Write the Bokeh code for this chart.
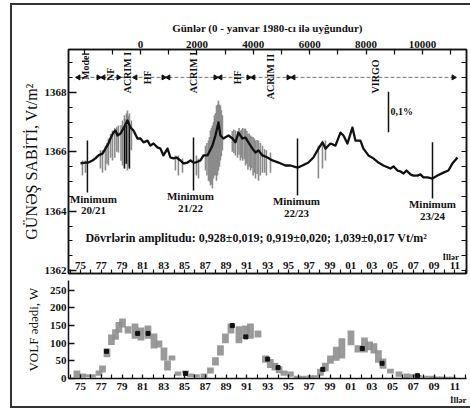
import math
from bokeh.plotting import figure
from bokeh.models import Range1d, LinearAxis, FixedTicker, Label, Title
from bokeh.layouts import column
from bokeh.embed import file_html
from bokeh.resources import INLINE
from bokeh.core.properties import value

FONT = "Liberation Serif"

# ---------------- data: total solar irradiance (black curve) ----------------
tsi_year = [1975.00, 1975.48, 1975.77, 1976.15, 1976.44, 1976.73, 1977.12, 1977.40, 1977.69, 1977.88,
            1978.17, 1978.37, 1978.56, 1978.85, 1979.13, 1979.52, 1979.81, 1980.10, 1980.48, 1980.77,
            1981.06, 1981.44, 1981.73, 1982.02, 1982.40, 1982.69, 1982.98, 1983.37, 1983.65, 1983.94,
            1984.23, 1984.62, 1984.90, 1985.29, 1985.58, 1985.87, 1986.06, 1986.54, 1986.83, 1987.21,
            1987.69, 1987.98, 1988.27, 1988.46, 1988.75, 1989.23, 1989.62, 1989.90, 1990.19, 1990.58,
            1990.87, 1991.15, 1991.54, 1991.83, 1992.12, 1992.50, 1992.98, 1993.46, 1994.04, 1994.71,
            1995.19, 1995.87, 1996.35, 1996.92, 1997.40, 1997.88, 1998.27, 1998.56, 1999.04, 1999.52,
            2000.00, 2000.29, 2000.67, 2001.15, 2001.44, 2001.92, 2002.21, 2002.69, 2003.17, 2003.65,
            2004.13, 2004.81, 2005.10, 2005.48, 2005.77, 2006.06, 2006.35, 2006.73, 2007.02, 2007.40,
            2007.69, 2007.98, 2008.37, 2008.85, 2009.33, 2009.90, 2010.38, 2010.77, 2011.25]
tsi_value = [1365.61, 1365.64, 1365.64, 1365.71, 1365.78, 1365.88, 1365.94, 1366.11, 1366.28, 1366.45,
             1366.65, 1366.72, 1366.55, 1366.62, 1366.79, 1367.06, 1366.82, 1366.72, 1366.45, 1366.45,
             1366.32, 1366.38, 1366.21, 1366.28, 1366.15, 1366.11, 1365.88, 1366.11, 1365.81, 1365.78,
             1365.81, 1365.71, 1365.61, 1365.64, 1365.71, 1365.64, 1365.64, 1365.71, 1365.88, 1365.88,
             1366.21, 1366.55, 1366.99, 1366.55, 1366.45, 1366.55, 1366.45, 1366.32, 1366.65, 1366.45,
             1366.48, 1366.32, 1366.11, 1365.98, 1366.05, 1365.88, 1365.81, 1365.71, 1365.64, 1365.54,
             1365.54, 1365.47, 1365.54, 1365.64, 1365.81, 1366.11, 1366.32, 1366.11, 1366.28, 1366.21,
             1366.65, 1366.55, 1366.28, 1366.82, 1366.38, 1366.38, 1366.11, 1365.88, 1365.78, 1365.64,
             1365.54, 1365.44, 1365.51, 1365.37, 1365.34, 1365.27, 1365.37, 1365.24, 1365.20, 1365.20,
             1365.24, 1365.14, 1365.14, 1365.10, 1365.20, 1365.30, 1365.37, 1365.61, 1365.81]

# daily scatter (grey spikes): year, low, high
spike_year = [1975.19, 1975.48, 1976.92, 1977.12, 1977.40, 1977.55, 1977.69, 1977.90, 1978.08, 1978.30,
              1978.50, 1978.65, 1978.90, 1979.04, 1979.23, 1979.33, 1979.42, 1979.52, 1979.61, 1979.71,
              1979.90, 1984.13, 1984.42, 1984.81, 1986.15, 1986.35, 1987.02, 1987.16, 1987.31, 1987.40,
              1987.50, 1987.60, 1987.69, 1987.79, 1987.88, 1987.98, 1988.08, 1988.18, 1988.27, 1988.37,
              1988.46, 1988.55, 1988.65, 1989.60, 1989.75, 1989.90, 1990.10, 1990.25, 1990.38, 1990.50,
              1990.60, 1990.75, 1990.87, 1991.00, 1991.10, 1991.22, 1991.35, 1991.48, 1991.60, 1991.72,
              1991.83, 1991.98, 1992.12, 1992.30, 1992.50, 1992.70, 1992.88, 1993.27, 1997.88, 1998.27,
              1998.56]
spike_lo = [1365.20, 1365.30, 1365.44, 1365.30, 1365.37, 1365.60, 1365.54, 1365.80, 1365.71, 1365.80,
            1366.00, 1365.98, 1365.70, 1365.54, 1365.44, 1365.60, 1365.71, 1365.37, 1365.50, 1365.44,
            1366.05, 1365.37, 1365.20, 1365.30, 1365.20, 1365.10, 1365.37, 1365.20, 1365.03, 1365.00,
            1364.87, 1364.90, 1364.77, 1365.10, 1365.20, 1365.20, 1365.03, 1365.20, 1365.37, 1365.50,
            1365.71, 1365.85, 1366.05, 1366.00, 1365.95, 1365.88, 1365.80, 1365.90, 1365.71, 1365.80,
            1365.70, 1365.75, 1365.54, 1365.60, 1365.40, 1365.50, 1365.37, 1365.45, 1365.20, 1365.30,
            1365.10, 1365.25, 1365.03, 1365.20, 1365.30, 1365.30, 1365.20, 1365.30, 1365.10, 1365.44,
            1365.71]
spike_hi = [1365.71, 1365.71, 1366.05, 1366.05, 1366.21, 1366.30, 1366.45, 1366.60, 1366.72, 1366.80,
            1366.85, 1366.89, 1366.90, 1367.06, 1367.23, 1367.10, 1367.29, 1367.39, 1367.20, 1367.29,
            1367.06, 1365.88, 1365.88, 1365.78, 1365.88, 1365.78, 1366.21, 1366.30, 1366.38, 1366.50,
            1366.72, 1366.80, 1366.89, 1367.00, 1367.23, 1367.30, 1367.56, 1367.60, 1367.73, 1367.60,
            1367.56, 1367.40, 1367.23, 1366.70, 1366.75, 1366.72, 1366.70, 1366.80, 1366.72, 1366.75,
            1366.80, 1366.78, 1366.79, 1366.70, 1366.60, 1366.62, 1366.55, 1366.52, 1366.50, 1366.45,
            1366.38, 1366.40, 1366.38, 1366.30, 1366.21, 1366.10, 1366.05, 1365.98, 1366.21, 1366.38,
            1366.38]

# dark (black) daily dips near the 1979-1980 maximum
dark_year = [1979.23, 1979.42, 1979.71]
dark_lo = [1365.44, 1365.60, 1365.44]
dark_hi = [1366.85, 1366.90, 1366.85]

# cycle minima
min_year = [1975.67, 1985.87, 1995.87, 2008.85]
min_top = [1366.38, 1366.48, 1366.45, 1366.32]
min_bottom = [1364.63, 1364.70, 1364.53, 1364.43]
min_label_x = [1976.25, 1985.58, 1995.77, 2008.85]
min_cycles = ["20/21", "21/22", "22/23", "23/24"]

# instruments
inst_names = ["Model", "NF", "ACRIM I", "HF", "ACRIM I", "HF", "ACRIM II", "VIRGO"]
inst_year = [1975.48, 1977.88, 1979.52, 1981.44, 1985.87, 1990.10, 1993.27, 2003.37]
inst_pos = [1368.88, 1368.61, 1368.67, 1368.51, 1368.67, 1368.51, 1368.54, 1368.54]
arrow_year = [1974.81, 1976.73, 1977.21, 1978.65, 1980.29, 1982.98, 1983.46, 1987.98, 1988.46,
              1991.15, 1991.63, 1995.00, 1995.48, 2010.87]
arrow_dir = ["left", "right", "left", "right", "left", "right", "left", "right", "left",
             "right", "left", "right", "left", "right"]
arrow_level = 1368.51

scale_bar_year = 2004.62
scale_bar_top = 1368.03
scale_bar_len = 0.001 * 1366.0

amp_text = "Dövrlərin amplitudu: 0,928±0,019; 0,919±0,020; 1,039±0,017 Vt/m²"

# ---------------- data: Wolf number ----------------
wolf_year = [1974.66, 1975.19, 1975.67, 1976.15, 1976.78, 1977.12, 1977.55, 1977.98, 1978.37, 1978.70,
             1979.04, 1979.57, 1980.24, 1980.82, 1981.49, 1982.07, 1982.55, 1983.03, 1983.37, 1983.80,
             1984.38, 1985.10, 1985.58, 1986.15, 1986.88, 1987.50, 1987.98, 1988.46, 1988.94, 1989.47,
             1990.24, 1990.87, 1991.35, 1992.07, 1992.79, 1993.25, 1993.70, 1994.10, 1994.57, 1995.19,
             1995.87, 1996.44, 1997.12, 1997.60, 1998.08, 1998.55, 1999.04, 1999.60, 2000.14, 2001.01,
             2001.68, 2002.31, 2002.80, 2003.22, 2003.65, 2004.09, 2004.81, 2005.63, 2006.39, 2007.00,
             2007.50, 2008.20, 2008.85, 2009.30, 2009.81, 2010.30, 2010.77]
wolf_lo = [2, 3, 4, 3, 8, 17, 60, 95, 110, 130,
           145, 128, 113, 108, 113, 85, 88, 51, 23, 51,
           8, 14, 4, 3, 2, 14, 37, 65, 100, 128,
           100, 113, 113, 116, 45, 30, 23, 15, 8, 5,
           1, 0, 1, 2, 8, 20, 42, 50, 57, 94,
           74, 74, 80, 71, 45, 28, 14, 5, 0, 3,
           3, 2, 0, 0, 0, 0, 0]
wolf_hi = [23, 14, 12, 12, 23, 37, 85, 125, 140, 160,
           170, 148, 156, 145, 150, 128, 108, 88, 51, 65,
           20, 23, 14, 12, 14, 31, 60, 94, 128, 156,
           148, 150, 156, 136, 65, 55, 45, 35, 23, 20,
           8, 8, 9, 9, 28, 45, 65, 90, 114, 136,
           94, 116, 105, 100, 80, 57, 28, 20, 14, 12,
           10, 8, 8, 6, 6, 5, 5]
wolf_dot_year = [1977.5, 1980.5, 1981.5, 1985.1, 1989.6, 1990.9, 1993.0, 1994.0, 1998.3, 2002.1, 2004.0, 2007.4]
wolf_dot_val = [77, 128, 128, 14, 150, 118, 55, 31, 26, 85, 43, 8]

# ---------------- ticks ----------------
year_ticks = list(range(1974, 2013))
label_years = [y for y in year_ticks if y % 2 == 1]
other_years = [y for y in year_ticks if y % 2 == 0]
year_labels = ["%02d" % (y % 100) for y in label_years]
day_ticks = [0, 2000, 4000, 6000, 8000, 10000]
day_minor = [-2000, -1000, 1000, 3000, 5000, 7000, 9000, 11000]
tsi_ticks = [1362, 1364, 1366, 1368]
tsi_minor = [1362 + 0.5 * i for i in range(16)]
wolf_ticks = [0, 50, 100, 150, 200, 250]

X0, X1 = 1973.85, 2012.12
INK = "#111111"


def style_axis(ax, size="11px"):
    ax.major_label_text_font = FONT
    ax.major_label_text_font_style = "bold"
    ax.major_label_text_font_size = size
    ax.major_label_text_color = INK
    ax.axis_line_color = INK
    ax.axis_line_width = 1.5
    ax.major_tick_line_color = INK
    ax.minor_tick_line_color = INK
    ax.major_tick_line_width = 1.3
    ax.minor_tick_line_width = 1.2


# ---------------- top panel ----------------
p = figure(width=458, height=271, x_range=Range1d(X0, X1), y_range=Range1d(1361.9, 1369.45),
           output_backend="svg", toolbar_location=None,
           x_axis_location=None, y_axis_location=None,
           min_border_left=56, min_border_right=4, min_border_top=44, min_border_bottom=3)
p.grid.visible = False
p.outline_line_color = INK
p.outline_line_width = 1.5

p.extra_x_ranges = {"days": Range1d(-2553, 11560)}
top_ax = LinearAxis(x_range_name="days", ticker=FixedTicker(ticks=day_ticks, minor_ticks=day_minor),
                    axis_label="Günlər (0 - yanvar 1980-cı ilə uyğundur)")
style_axis(top_ax)
top_ax.major_tick_in = 5
top_ax.major_tick_out = 0
top_ax.minor_tick_in = 5
top_ax.minor_tick_out = 0
top_ax.major_label_standoff = 2
top_ax.axis_label_text_font = FONT
top_ax.axis_label_text_font_style = "bold"
top_ax.axis_label_text_font_size = "11px"
top_ax.axis_label_text_color = INK
top_ax.axis_label_standoff = 4
p.add_layout(top_ax, "above")

left_ax = LinearAxis(ticker=FixedTicker(ticks=tsi_ticks, minor_ticks=tsi_minor))
style_axis(left_ax)
left_ax.major_tick_in = 8
left_ax.major_tick_out = 0
left_ax.minor_tick_in = 4
left_ax.minor_tick_out = 0
left_ax.major_label_standoff = 2
p.add_layout(left_ax, "left")

right_ax = LinearAxis(ticker=FixedTicker(ticks=[], minor_ticks=tsi_minor))
style_axis(right_ax)
right_ax.minor_tick_in = 5
right_ax.minor_tick_out = 0
p.add_layout(right_ax, "right")

bot_ax = LinearAxis(ticker=FixedTicker(ticks=[], minor_ticks=year_ticks))
style_axis(bot_ax)
bot_ax.minor_tick_in = 4
bot_ax.minor_tick_out = 0
p.add_layout(bot_ax, "below")

p.add_layout(Title(text="GÜNƏŞ SABİTİ, Vt/m²", align="center", offset=33, standoff=4,
                   text_font=FONT, text_font_size="16px", text_font_style="normal",
                   text_color=INK), "left")

# daily scatter + curve
p.segment(x0=spike_year, y0=spike_lo, x1=spike_year, y1=spike_hi, line_color="#8c8c8c", line_width=1.6)
p.segment(x0=dark_year, y0=dark_lo, x1=dark_year, y1=dark_hi, line_color=INK, line_width=1.4)
p.line(tsi_year, tsi_value, line_color=INK, line_width=2.3, line_join="round")

# minima
p.segment(x0=min_year, y0=min_top, x1=min_year, y1=min_bottom, line_color=INK, line_width=1.5)
p.text(x=min_label_x, y=min_bottom, text=["Minimum\n" + c for c in min_cycles],
       text_align="center", text_baseline="top", text_font=value(FONT), text_font_style="bold",
       text_font_size="11px", text_color=INK, text_line_height=0.95)

# instruments
p.line([arrow_year[0], arrow_year[-1]], [arrow_level, arrow_level], line_color="#777777",
       line_width=1, line_dash="4 2")
p.scatter(x=arrow_year, y=[arrow_level] * len(arrow_year), marker="triangle",
          angle=[math.pi / 2 if d == "left" else -math.pi / 2 for d in arrow_dir],
          size=5, fill_color=INK, line_color=INK)
p.text(x=inst_year, y=inst_pos, text=inst_names, angle=math.pi / 2, text_align="center",
       text_baseline="middle", text_font=value(FONT), text_font_style="bold", text_font_size="10px",
       text_color=INK)

# 0.1 % scale bar
p.segment(x0=[scale_bar_year], y0=[scale_bar_top], x1=[scale_bar_year], y1=[scale_bar_top - scale_bar_len],
          line_color=INK, line_width=1.5)
p.add_layout(Label(x=scale_bar_year + 0.2, y=scale_bar_top - scale_bar_len / 2, text="0,1%",
                   text_font=FONT, text_font_style="bold", text_font_size="10px",
                   text_baseline="middle", text_color=INK))

# amplitudes
p.add_layout(Label(x=1975.48, y=1363.11, text=amp_text, text_font=FONT, text_font_style="bold",
                   text_font_size="12px", text_baseline="middle", text_color=INK))

# year labels inside the frame
p.text(x=label_years, y=[1362.17] * len(label_years), text=year_labels, text_align="center",
       text_baseline="middle", text_font=value(FONT), text_font_style="bold", text_font_size="11px",
       text_color=INK)
p.add_layout(Label(x=2011.4, y=1362.44, text="İllər", text_font=FONT, text_font_style="bold",
                   text_font_size="9px", text_align="right", text_baseline="middle", text_color=INK))

# ---------------- bottom panel ----------------
q = figure(width=458, height=130, x_range=p.x_range, y_range=Range1d(0, 278),
           output_backend="svg", toolbar_location=None,
           x_axis_location=None, y_axis_location=None,
           min_border_left=56, min_border_right=4, min_border_top=4, min_border_bottom=28)
q.grid.visible = False
q.outline_line_color = None

wl_ax = LinearAxis(ticker=FixedTicker(ticks=wolf_ticks))
style_axis(wl_ax)
wl_ax.major_tick_in = 6
wl_ax.major_tick_out = 0
wl_ax.major_label_standoff = 2
q.add_layout(wl_ax, "left")

wb_ax = LinearAxis(ticker=FixedTicker(ticks=label_years, minor_ticks=other_years))
style_axis(wb_ax)
wb_ax.major_tick_in = 4
wb_ax.major_tick_out = 0
wb_ax.minor_tick_in = 4
wb_ax.minor_tick_out = 0
wb_ax.major_label_standoff = 4
wb_ax.major_label_overrides = {y: lab for y, lab in zip(label_years, year_labels)}
q.add_layout(wb_ax, "below")

q.add_layout(Title(text="İllər", align="right", standoff=0, text_font=FONT,
                   text_font_size="9px", text_font_style="bold", text_color=INK), "below")
q.add_layout(Title(text="VOLF ədədi, W", align="center", offset=-6, standoff=12,
                   text_font=FONT, text_font_size="13px", text_font_style="normal",
                   text_color=INK), "left")

q.vbar(x=wolf_year, bottom=wolf_lo, top=wolf_hi, width=0.65, fill_color="#8f8f8f",
       line_color=None, fill_alpha=0.9)
q.scatter(x=wolf_dot_year, y=wolf_dot_val, marker="square", size=4, fill_color=INK, line_color=INK)

layout = column(p, q, styles={"margin-left": "12px", "margin-top": "5px",
                              "outline": "2px solid #333333"})

open("out.html", "w").write(file_html(layout, INLINE))
